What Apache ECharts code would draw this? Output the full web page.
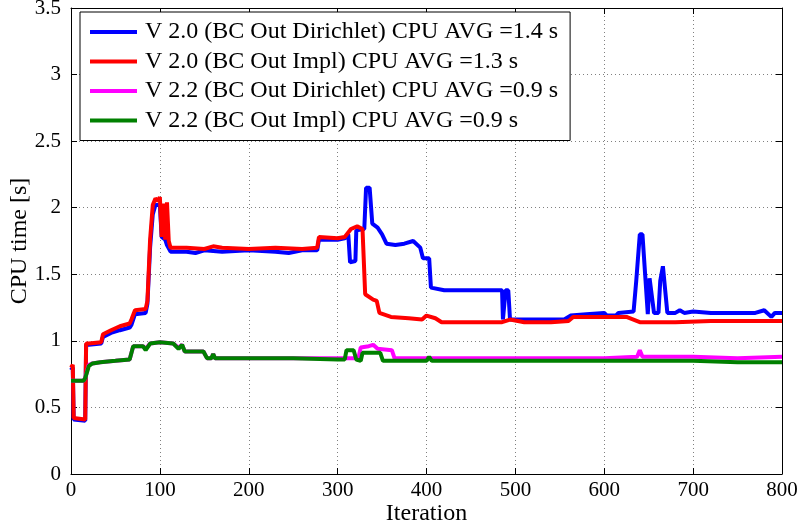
<!DOCTYPE html>
<html>
<head>
<meta charset="utf-8">
<script src="https://cdn.jsdelivr.net/npm/echarts@6/dist/echarts.min.js"></script>
<style>
html,body{margin:0;padding:0;background:#fff;}
#chart{width:799px;height:529px;}
</style>
</head>
<body>
<div id="chart"></div>
<script>
// Series names
const seriesNames = [
  'V 2.0 (BC Out Dirichlet) CPU AVG =1.4 s',
  'V 2.0 (BC Out Impl) CPU AVG =1.3 s',
  'V 2.2 (BC Out Dirichlet) CPU AVG =0.9 s',
  'V 2.2 (BC Out Impl) CPU AVG =0.9 s'
];
// Tick values
const xTicks = [0, 100, 200, 300, 400, 500, 600, 700, 800];
const yTicks = [0, 0.5, 1, 1.5, 2, 2.5, 3, 3.5];

// [iteration, CPU time]
const v20Dirichlet = [
  [0,0.78],[2,0.80],[3,0.41],[5,0.40],[16,0.40],[17,0.97],[20,0.97],[34,0.98],[36,1.03],[45,1.06],[55,1.08],[66,1.10],[68,1.12],[72,1.20],[84,1.21],[86,1.28],[89,1.70],[92,1.95],[95,2.02],[100,2.02],[102,1.78],[106,1.76],[108,1.72],[112,1.67],[130,1.67],[140,1.66],[150,1.68],[170,1.67],[200,1.68],[230,1.67],[245,1.66],[260,1.68],[277,1.68],[279,1.76],[300,1.76],[308,1.77],[312,1.80],[314,1.59],[320,1.60],[321,1.83],[330,1.84],[332,2.15],[336,2.15],[339,1.88],[345,1.85],[350,1.80],[355,1.73],[365,1.72],[375,1.73],[385,1.75],[393,1.70],[396,1.62],[403,1.62],[405,1.40],[420,1.38],[450,1.38],[485,1.38],[486,1.16],[488,1.16],[489,1.38],[492,1.38],[494,1.16],[520,1.16],[540,1.16],[555,1.16],[562,1.19],[580,1.20],[600,1.21],[603,1.19],[613,1.19],[616,1.21],[633,1.22],[636,1.45],[640,1.80],[643,1.80],[646,1.50],[649,1.20],[651,1.47],[653,1.47],[656,1.21],[661,1.21],[663,1.45],[666,1.56],[668,1.55],[671,1.21],[680,1.21],[685,1.23],[690,1.21],[700,1.22],[720,1.21],[750,1.21],[770,1.21],[780,1.23],[788,1.18],[792,1.21],[800,1.21]
];
const v20Impl = [
  [0,0.80],[2,0.82],[3,0.42],[5,0.41],[16,0.41],[17,0.98],[20,0.98],[34,0.99],[36,1.05],[45,1.08],[55,1.11],[66,1.13],[68,1.16],[72,1.23],[84,1.24],[86,1.30],[89,1.76],[92,2.02],[95,2.07],[98,2.05],[100,2.08],[102,1.78],[104,2.03],[106,1.76],[108,2.04],[110,1.75],[112,1.70],[130,1.70],[150,1.69],[160,1.71],[170,1.70],[200,1.69],[230,1.70],[260,1.69],[277,1.70],[279,1.78],[300,1.77],[308,1.78],[315,1.84],[322,1.86],[328,1.84],[331,1.35],[340,1.31],[344,1.30],[347,1.21],[360,1.18],[380,1.17],[395,1.16],[400,1.19],[410,1.17],[417,1.14],[440,1.14],[460,1.14],[485,1.14],[494,1.16],[510,1.14],[540,1.14],[560,1.15],[565,1.18],[600,1.18],[625,1.18],[640,1.14],[680,1.14],[720,1.15],[740,1.15],[742,1.16],[770,1.15],[800,1.15]
];
const v22Dirichlet = [
  [0,0.70],[14,0.70],[16,0.72],[20,0.82],[24,0.83],[33,0.84],[50,0.85],[66,0.86],[70,0.96],[81,0.96],[84,0.94],[89,0.98],[100,0.99],[115,0.98],[121,0.95],[125,0.97],[128,0.92],[149,0.92],[153,0.87],[158,0.87],[160,0.90],[162,0.87],[200,0.87],[250,0.87],[300,0.87],[320,0.87],[323,0.86],[326,0.95],[335,0.96],[340,0.97],[345,0.94],[361,0.93],[364,0.87],[400,0.87],[450,0.87],[500,0.87],[550,0.87],[600,0.87],[637,0.88],[640,0.93],[643,0.88],[700,0.88],[750,0.87],[800,0.88]
];
const v22Impl = [
  [0,0.70],[14,0.70],[16,0.72],[20,0.81],[24,0.83],[33,0.84],[50,0.85],[66,0.86],[70,0.96],[81,0.96],[84,0.93],[89,0.98],[100,0.99],[115,0.98],[121,0.94],[125,0.97],[128,0.92],[149,0.92],[153,0.87],[158,0.87],[160,0.90],[162,0.87],[200,0.87],[250,0.87],[300,0.86],[308,0.86],[310,0.93],[318,0.93],[321,0.86],[326,0.85],[328,0.91],[348,0.91],[351,0.85],[400,0.85],[403,0.88],[406,0.85],[450,0.85],[500,0.85],[550,0.85],[600,0.85],[650,0.85],[700,0.85],[750,0.84],[800,0.84]
];

const colors = ['#0000ff', '#ff0000', '#ff00ff', '#008000'];
const FONT = "'Liberation Serif', 'Times New Roman', serif";

const chart = echarts.init(document.getElementById('chart'), null, {renderer: 'canvas'});

const gridLine = {show: true, lineStyle: {color: '#808080', width: 1, type: [1, 3]}};
const axisLineStyle = {show: true, onZero: false, lineStyle: {color: '#000', width: 1}};
const tickStyle = {show: true, inside: true, length: 6, lineStyle: {color: '#000'}};

function mkSeries(i, data) {
  return {
    name: seriesNames[i], type: 'line', data: data,
    showSymbol: false, symbol: 'none',
    lineStyle: {color: colors[i], width: 4},
    itemStyle: {color: colors[i]},
    z: 2 + i, animation: false
  };
}

chart.setOption({
  animation: false,
  backgroundColor: '#fff',
  textStyle: {fontFamily: FONT},
  grid: {left: 71, right: 17, top: 8, bottom: 55, containLabel: false, outerBoundsMode: 'none'},
  legend: {
    show: true, orient: 'vertical', left: 80, top: 12,
    backgroundColor: '#fff', borderColor: '#000', borderWidth: 1,
    padding: [8, 12, 8, 10], itemGap: 5.5, itemWidth: 47, itemHeight: 4,
    icon: 'rect', selectedMode: false,
    textStyle: {fontFamily: FONT, fontSize: 24, color: '#000', lineHeight: 22, padding: [0, 0, 0, 3]},
    data: seriesNames
  },
  xAxis: [{
    type: 'value', min: xTicks[0], max: xTicks[xTicks.length - 1], interval: 100,
    position: 'bottom',
    name: 'Iteration', nameLocation: 'middle', nameGap: 28, nameMoveOverlap: false,
    nameTextStyle: {fontFamily: FONT, fontSize: 24, color: '#000'},
    axisLine: axisLineStyle, axisTick: tickStyle,
    axisLabel: {fontFamily: FONT, fontSize: 21, color: '#000', margin: 6},
    splitLine: gridLine
  }, {
    type: 'value', min: xTicks[0], max: xTicks[xTicks.length - 1], interval: 100,
    position: 'top',
    axisLine: axisLineStyle, axisTick: tickStyle,
    axisLabel: {show: false}, splitLine: {show: false}
  }],
  yAxis: [{
    type: 'value', min: yTicks[0], max: yTicks[yTicks.length - 1], interval: 0.5,
    position: 'left',
    name: 'CPU time [s]', nameLocation: 'middle', nameGap: 39, nameRotate: 90, nameMoveOverlap: false,
    nameTextStyle: {fontFamily: FONT, fontSize: 24, color: '#000'},
    axisLine: axisLineStyle, axisTick: tickStyle,
    axisLabel: {fontFamily: FONT, fontSize: 21, color: '#000', margin: 10},
    splitLine: gridLine
  }, {
    type: 'value', min: yTicks[0], max: yTicks[yTicks.length - 1], interval: 0.5,
    position: 'right',
    axisLine: axisLineStyle, axisTick: tickStyle,
    axisLabel: {show: false}, splitLine: {show: false}
  }],
  series: [
    mkSeries(0, v20Dirichlet),
    mkSeries(1, v20Impl),
    mkSeries(2, v22Dirichlet),
    mkSeries(3, v22Impl)
  ]
});
</script>
</body>
</html>
